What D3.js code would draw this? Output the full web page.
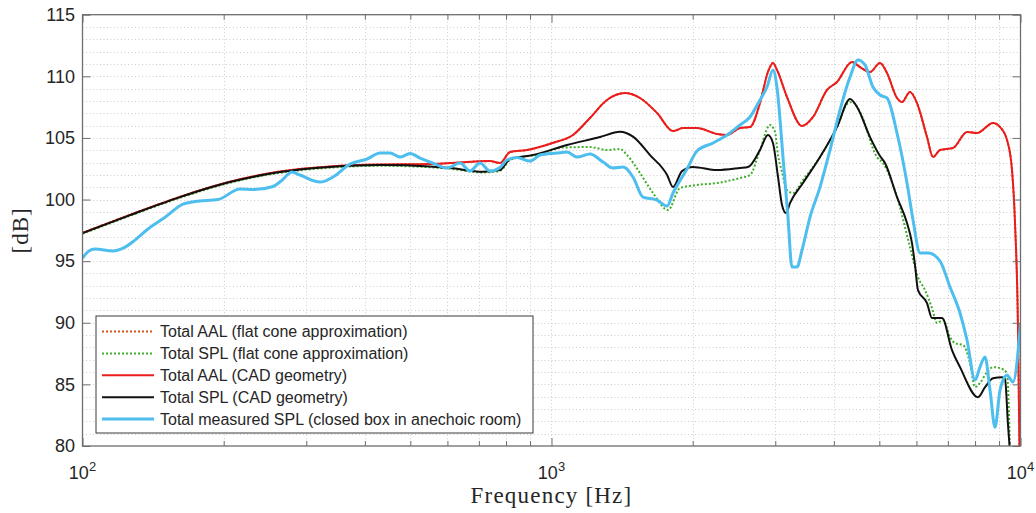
<!DOCTYPE html>
<html>
<head>
<meta charset="utf-8">
<script src="https://cdn.jsdelivr.net/npm/d3@7"></script>
<style>
  html, body { margin: 0; padding: 0; background: #fff; }
  svg { display: block; }
  .tick text { font-family: "Liberation Sans", Arial, sans-serif; }
</style>
</head>
<body>
<svg id="chart" width="1036" height="513"></svg>
<script>
// ---- data: frequency [Hz] and level [dB] per curve ----
const freqSplCad = [100,126.3,161.4,206.3,263.8,337.1,430.9,550.8,607.6,714.4,776.7,815.8,913.3,1079,1269,1400,1492,1622,1764,1816,1898,2003,2254,2523,2624,2783,2894,2966,3041,3101,3162,3225,3437,3737,4062,4331,4482,4777,5017,5141,5454,5728,5870,5958,6045,6319,6476,6804,7144,7430,8117,8402,8739,9133,9268,9406,9498];
const splCad = [97.28,98.74,100.20,101.42,102.23,102.64,102.80,102.68,102.56,102.26,102.39,103.29,103.61,104.42,105.07,105.50,105.10,103.61,101.99,101.01,102.31,102.64,102.39,102.56,102.64,104.02,105.24,104.59,101.83,99.55,98.90,99.71,101.34,103.45,105.88,108.16,107.51,105.07,103.53,102.96,100.20,98.09,96.47,94.68,92.65,91.60,90.38,90.38,87.78,86.40,83.96,84.77,85.50,85.58,85.42,81.69,79.5];

const freqAalCad = [100,126.3,161.4,206.3,263.8,337.1,430.9,550.8,607.6,739.4,776.7,815.8,886.8,1005,1111,1208,1313,1435,1544,1679,1816,1907,2043,2254,2367,2523,2650,2783,2894,2966,3026,3178,3420,3611,3868,4062,4373,4549,4777,5017,5192,5454,5588,5812,6016,6319,6508,6736,7181,7690,8077,8739,9044,9359,9592,9734,9879,9952];
const aalCad = [97.30,98.76,100.22,101.44,102.27,102.68,102.84,102.88,102.96,103.12,102.96,103.86,104.02,104.59,105.24,106.62,108.08,108.64,108.24,107.02,105.56,105.80,105.80,105.32,105.24,105.80,105.88,107.83,110.35,111.08,110.51,108.32,105.97,106.70,108.89,109.54,111.16,110.75,110.35,111.08,110.27,108.24,107.91,108.73,107.83,105.07,103.45,104.02,104.18,105.48,105.40,106.21,105.88,104.83,102.39,98.09,89.41,79.5];

// flat cone AAL runs under the CAD AAL curve over the whole band
const freqAalFlat = freqAalCad.slice();
const aalFlat = aalCad.slice();

const freqSplFlat = [100,126.3,161.4,206.3,263.8,337.1,430.9,550.8,607.6,714.4,776.7,815.8,945.2,1058,1208,1313,1400,1449,1544,1646,1772,1879,2043,2254,2523,2650,2783,2923,2996,3041,3101,3178,3273,3437,3737,4062,4289,4373,4549,4943,5091,5454,5812,6045,6258,6476,6637,6838,7074,7250,7541,7804,7998,8196,8484,8739,9044,9359,9498];
const splFlat = [97.22,98.68,100.14,101.36,102.17,102.58,102.74,102.62,102.50,102.20,102.33,103.21,103.69,104.22,104.26,104.02,104.10,103.61,102.15,100.53,99.15,100.93,101.18,101.34,101.75,101.99,104.02,106.05,105.48,103.61,102.23,100.77,100.53,101.58,103.45,105.88,107.83,107.91,107.10,103.45,102.96,100.20,96.14,93.71,92.65,91.19,89.98,90.22,88.84,88.35,88.19,86.73,84.78,85.11,86.00,86.40,86.32,85.92,79.5];

const freqMeasured = [100,103.2,106.3,116.2,123.2,129.4,137.9,149.2,163.8,173.7,194.5,216.7,232.1,254.8,265.0,279.7,290.9,321.0,342.1,371.8,404.4,430.9,452.5,475.3,499.2,524.3,558.8,598.7,638.2,670.3,704.0,739.4,776.7,803.7,844.1,900,945.2,1027,1079,1133,1208,1288,1353,1421,1492,1567,1679,1764,1816,1945,2043,2210,2367,2523,2650,2783,2881,2967,3026,3116,3193,3256,3337,3421,3558,3737,3925,4122,4330,4502,4660,4846,5017,5192,5453,5728,5900,6106,6350,6736,7074,7430,7690,7998,8196,8400,8610,8824,9044,9359,9639,10000];
const splMeasured = [95.25,95.82,95.98,95.82,96.14,96.71,97.61,98.50,99.63,99.84,100.00,100.85,100.81,101.06,101.50,102.23,101.99,101.42,101.83,102.88,103.29,103.77,103.77,103.45,103.73,103.37,102.96,102.56,102.96,102.31,102.96,102.31,102.60,103.21,103.41,103.12,103.61,103.77,103.86,103.45,103.69,103.04,102.56,102.64,101.83,100.20,99.96,99.47,100.53,102.48,103.94,104.59,105.24,106.05,106.70,108.08,109.13,110.51,109.05,103.45,98.58,94.52,94.52,95.90,98.58,101.01,104.02,107.26,109.94,111.32,110.92,109.13,108.48,108.24,105.40,101.34,98.34,95.66,95.66,95.01,92.90,90.79,88.60,85.35,86.40,87.22,84.54,81.53,84.54,85.75,85.19,89.98];

const yTicks = [80, 85, 90, 95, 100, 105, 110, 115];
const xMajorTicks = [100, 1000, 10000];
const legendLabels = [
  "Total AAL (flat cone approximation)",
  "Total SPL (flat cone approximation)",
  "Total AAL (CAD geometry)",
  "Total SPL (CAD geometry)",
  "Total measured SPL (closed box in anechoic room)"
];

// ---- layout ----
const svg = d3.select("#chart");
const W = 1036, H = 513;
const plot = { left: 82.5, right: 1020.5, top: 14.7, bottom: 446 };

svg.append("rect").attr("width", W).attr("height", H).attr("fill", "#fff");

const x = d3.scaleLog().domain([100, 10000]).range([plot.left, plot.right]);
const y = d3.scaleLinear().domain([80, 115]).range([plot.bottom, plot.top]);

// minor decade positions 200..900, 2000..9000
const xMinor = [];
[100, 1000].forEach(dec => { for (let k = 2; k <= 9; k++) xMinor.push(dec * k); });
const yMinor = d3.range(81, 115);

// ---- grid ----
const grid = svg.append("g").attr("stroke", "#cdcdcd").attr("stroke-width", 1)
  .attr("stroke-dasharray", "1,2.5").attr("fill", "none");
grid.selectAll("line.gx").data(xMinor.concat([1000])).join("line")
  .attr("x1", d => Math.round(x(d)) + 0.5).attr("x2", d => Math.round(x(d)) + 0.5)
  .attr("y1", plot.top).attr("y2", plot.bottom);
grid.selectAll("line.gy").data(yMinor).join("line")
  .attr("y1", d => Math.round(y(d)) + 0.5).attr("y2", d => Math.round(y(d)) + 0.5)
  .attr("x1", plot.left).attr("x2", plot.right);

// ---- curves ----
svg.append("clipPath").attr("id", "plotclip").append("rect")
  .attr("x", plot.left).attr("y", plot.top)
  .attr("width", plot.right - plot.left).attr("height", plot.bottom - plot.top);

const lineGen = d3.line().x(d => x(d[0])).y(d => y(d[1])).curve(d3.curveMonotoneX);
const zip = (f, v) => f.map((fi, i) => [fi, v[i]]);

const series = [
  { f: freqAalFlat,  v: aalFlat,     color: "#d95319", width: 2, dash: "2,2" },
  { f: freqSplFlat,  v: splFlat,     color: "#3fae2a", width: 2, dash: "2,2" },
  { f: freqAalCad,   v: aalCad,      color: "#ea1c1c", width: 2, dash: null },
  { f: freqSplCad,   v: splCad,      color: "#111111", width: 2, dash: null },
  { f: freqMeasured, v: splMeasured, color: "#4dbeee", width: 3, dash: null }
];

const curves = svg.append("g").attr("clip-path", "url(#plotclip)");
series.forEach(s => {
  curves.append("path")
    .datum(zip(s.f, s.v))
    .attr("d", lineGen)
    .attr("fill", "none")
    .attr("stroke", s.color)
    .attr("stroke-width", s.width)
    .attr("stroke-linejoin", "round")
    .attr("stroke-dasharray", s.dash);
});

// ---- axes (ticks inside the box) ----
const axisColor = "#6e6e6e";
function styleAxis(g) {
  g.select(".domain").remove();
  g.selectAll(".tick line").attr("stroke", axisColor).attr("stroke-width", 1);
}

svg.append("g").attr("transform", `translate(${plot.left},0)`)
  .call(d3.axisLeft(y).tickValues(yTicks).tickSize(-8).tickPadding(7.5).tickFormat(d3.format("d")))
  .call(styleAxis)
  .call(g => g.selectAll(".tick text").attr("font-size", 18).attr("fill", "#262626"));

svg.append("g").attr("transform", `translate(${plot.right},0)`)
  .call(d3.axisRight(y).tickValues(yTicks).tickSize(-8).tickFormat(""))
  .call(styleAxis);

svg.append("g").attr("transform", `translate(0,${plot.bottom})`)
  .call(d3.axisBottom(x).tickValues(xMajorTicks).tickSize(-8).tickFormat(""))
  .call(styleAxis);
svg.append("g").attr("transform", `translate(0,${plot.bottom})`)
  .call(d3.axisBottom(x).tickValues(xMinor).tickSize(-5).tickFormat(""))
  .call(styleAxis);
svg.append("g").attr("transform", `translate(0,${plot.top})`)
  .call(d3.axisTop(x).tickValues(xMajorTicks).tickSize(-8).tickFormat(""))
  .call(styleAxis);
svg.append("g").attr("transform", `translate(0,${plot.top})`)
  .call(d3.axisTop(x).tickValues(xMinor).tickSize(-5).tickFormat(""))
  .call(styleAxis);

// box
svg.append("rect")
  .attr("x", plot.left).attr("y", plot.top)
  .attr("width", plot.right - plot.left).attr("height", plot.bottom - plot.top)
  .attr("fill", "none").attr("stroke", axisColor).attr("stroke-width", 1.3);

// x tick labels as powers of ten
const xl = svg.append("g").attr("font-family", "Liberation Sans, Arial, sans-serif").attr("fill", "#262626");
xMajorTicks.forEach(d => {
  const t = xl.append("text").attr("x", x(d)).attr("y", 479).attr("text-anchor", "middle").attr("font-size", 18);
  t.append("tspan").text("10");
  t.append("tspan").attr("dy", -8).attr("font-size", 13).text(Math.round(Math.log10(d)));
});

// axis titles
svg.append("text")
  .attr("x", (plot.left + plot.right) / 2).attr("y", 503)
  .attr("text-anchor", "middle")
  .attr("font-family", "Liberation Serif, 'Times New Roman', serif")
  .attr("font-size", 23).attr("letter-spacing", 1.2).attr("fill", "#262626")
  .text("Frequency [Hz]");

svg.append("text")
  .attr("transform", `translate(28,${(plot.top + plot.bottom) / 2}) rotate(-90)`)
  .attr("text-anchor", "middle")
  .attr("font-family", "Liberation Serif, 'Times New Roman', serif")
  .attr("font-size", 23).attr("letter-spacing", 1).attr("fill", "#262626")
  .text("[dB]");

// ---- legend ----
const lg = svg.append("g");
lg.append("rect").attr("x", 96).attr("y", 316).attr("width", 437).attr("height", 117)
  .attr("fill", "#fff").attr("stroke", "#3a3a3a").attr("stroke-width", 1);
const rowY = d3.scalePoint().domain(d3.range(legendLabels.length)).range([331.5, 419]);
legendLabels.forEach((label, i) => {
  const s = series[i];
  lg.append("line")
    .attr("x1", 102).attr("x2", 154).attr("y1", rowY(i)).attr("y2", rowY(i))
    .attr("stroke", s.color).attr("stroke-width", s.width).attr("stroke-dasharray", s.dash);
  lg.append("text")
    .attr("x", 160).attr("y", rowY(i) + 5.5)
    .attr("font-family", "Liberation Sans, Arial, sans-serif")
    .attr("font-size", 16).attr("fill", "#262626")
    .text(label);
});
</script>
</body>
</html>
